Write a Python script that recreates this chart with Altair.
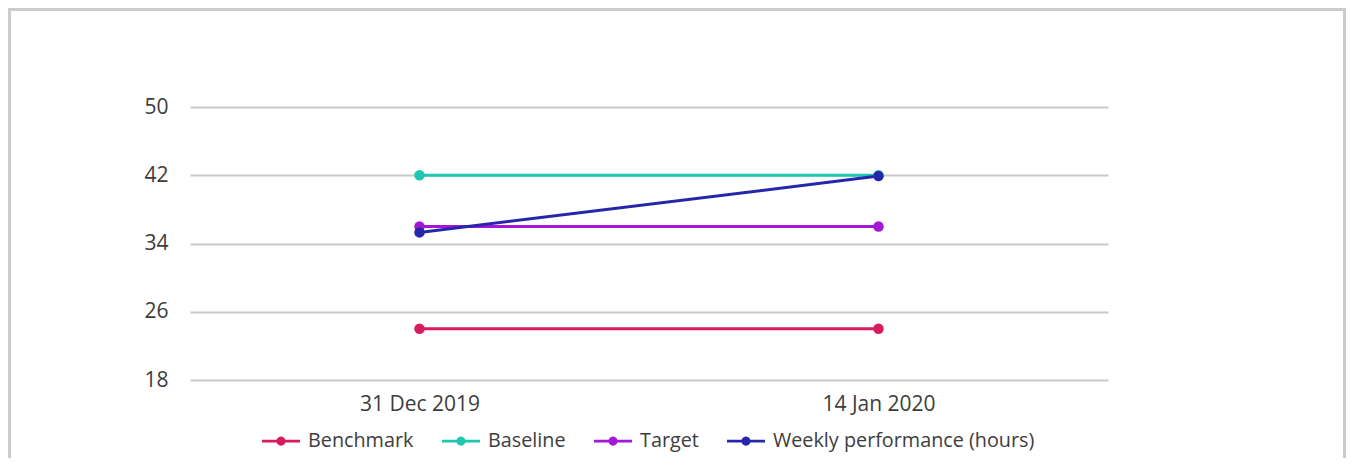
import math
import altair as alt
import pandas as pd

# ---- data ----
dates = ["31 Dec 2019", "14 Jan 2020"]
series_names = ["Benchmark", "Baseline", "Target", "Weekly performance (hours)"]
benchmark = [24, 24]
baseline = [42, 42]
target = [36, 36]
weekly = [35.3, 41.9]
y_ticks = [18, 26, 34, 42, 50]
colors = ["#d81b5f", "#1fc7b1", "#a417d6", "#2626ad"]

rows = []
for name, vals in zip(series_names, [benchmark, baseline, target, weekly]):
    for d, v in zip(dates, vals):
        rows.append({"date": d, "value": v, "series": name})
df = pd.DataFrame(rows)

FONT = "Open Sans"
TEXT = "#3d3d3d"

# legend glyph: a short line with a dot in the middle (all filled shapes)
R = 0.24
HW = 0.075
circle = "M" + "L".join(
    f"{R*math.cos(2*math.pi*i/24):.4f},{R*math.sin(2*math.pi*i/24):.4f}"
    for i in range(24)) + "Z"
legend_path = (f"M-1,-{HW}H-0.2V{HW}H-1Z"
               f"M0.2,-{HW}H1V{HW}H0.2Z" + circle)

x_enc = alt.X("date:N", sort=dates, title=None,
              scale=alt.Scale(type="point", padding=0.5),
              axis=alt.Axis(labelAngle=0, domain=False, ticks=False, tickSize=0,
                            grid=False, labelPadding=13, labelFontSize=21,
                            labelColor=TEXT, labelFont=FONT))
y_enc = alt.Y("value:Q", title=None,
              scale=alt.Scale(domain=[18, 50], nice=False, zero=False),
              axis=alt.Axis(values=y_ticks, domain=False, ticks=False, tickSize=0,
                            grid=True, gridColor="#c8c8c8", gridWidth=1.8,
                            labelPadding=22, labelFontSize=21, labelColor=TEXT,
                            labelFont=FONT))

scale_c = alt.Scale(domain=series_names, range=colors)

leg = alt.Legend(
    title=None, orient="none", legendX=72, legendY=315, direction="horizontal",
    columns=4, padding=0, columnPadding=28, labelOffset=8, labelLimit=600,
    symbolType=legend_path, symbolSize=1444, symbolStrokeWidth=0,
    labelFontSize=19.8, labelColor=TEXT, labelFont=FONT,
)

lines = alt.Chart(df).mark_line(strokeWidth=3).encode(
    x=x_enc, y=y_enc,
    color=alt.Color("series:N", scale=scale_c, legend=leg),
)

points = alt.Chart(df).mark_point(filled=True, size=110, opacity=1).encode(
    x=x_enc, y=y_enc,
    color=alt.Color("series:N", scale=scale_c, legend=leg),
)

border = alt.Chart(pd.DataFrame({"k": [0]})).mark_rect(
    fill="transparent", stroke="#cccccc", strokeWidth=3
).encode(
    x=alt.value(-180.5), x2=alt.value(1154.5),
    y=alt.value(-97.5), y2=alt.value(420),
)

chart = alt.layer(border, lines, points).properties(
    width=918, height=273,
    autosize=alt.AutoSizeParams(type="none"),
    padding={"left": 182, "top": 99, "right": 238, "bottom": 78},
).configure(background="white").configure_view(stroke=None)

chart.save("out.html", embed_options={"renderer": "svg", "actions": False})
